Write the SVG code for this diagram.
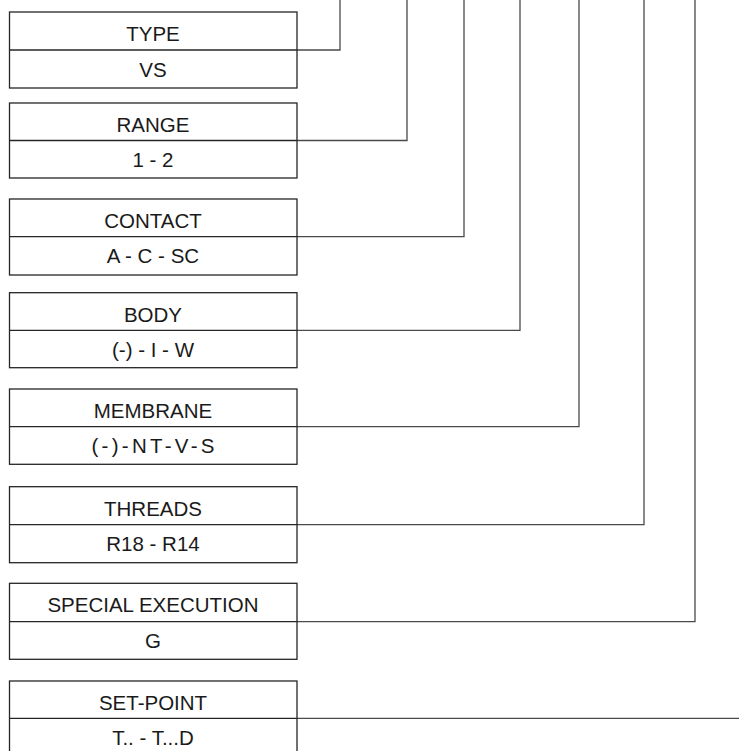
<svg xmlns="http://www.w3.org/2000/svg" width="739" height="751" viewBox="0 0 739 751">
<style>
.box{fill:#fff;stroke:#262626;stroke-width:1.3}
.div{stroke:#262626;stroke-width:1.3}
.conn{fill:none;stroke:#4a4a4a;stroke-width:1.3}
.t{font-family:"Liberation Sans",Arial,sans-serif;font-size:20.5px;fill:#1a1a1a;text-anchor:middle}
</style>
<rect width="739" height="751" fill="#fff"/>
<g id="connectors">
<path class="conn" d="M297 50H340V0"/>
<path class="conn" d="M297 140.5H407V0"/>
<path class="conn" d="M297 236.7H464V0"/>
<path class="conn" d="M297 330.3H520V0"/>
<path class="conn" d="M297 426.7H579V0"/>
<path class="conn" d="M297 524.7H644V0"/>
<path class="conn" d="M297 621.7H695V0"/>
<path class="conn" d="M297 718.3H739"/>
</g>
<g id="type">
<rect class="box" x="9.5" y="12" width="287.5" height="76"/>
<line class="div" x1="9.5" y1="50" x2="297" y2="50"/>
<text class="t" x="153" y="41.3">TYPE</text>
<text class="t" x="153" y="76.7">VS</text>
</g>
<g id="range">
<rect class="box" x="9.5" y="103" width="287.5" height="75"/>
<line class="div" x1="9.5" y1="140.5" x2="297" y2="140.5"/>
<text class="t" x="153" y="132.3">RANGE</text>
<text class="t" x="153" y="167.2">1 - 2</text>
</g>
<g id="contact">
<rect class="box" x="9.5" y="199" width="287.5" height="76"/>
<line class="div" x1="9.5" y1="236.7" x2="297" y2="236.7"/>
<text class="t" x="153" y="228.3">CONTACT</text>
<text class="t" x="153" y="263.4">A - C - SC</text>
</g>
<g id="body">
<rect class="box" x="9.5" y="292.7" width="287.5" height="75"/>
<line class="div" x1="9.5" y1="330.3" x2="297" y2="330.3"/>
<text class="t" x="153" y="322">BODY</text>
<text class="t" x="153" y="357">(-) - I - W</text>
</g>
<g id="membrane">
<rect class="box" x="9.5" y="389" width="287.5" height="75.3"/>
<line class="div" x1="9.5" y1="426.7" x2="297" y2="426.7"/>
<text class="t" x="153" y="418.3">MEMBRANE</text>
<text class="t" x="153" y="453.4" textLength="123" lengthAdjust="spacing">(-)-NT-V-S</text>
</g>
<g id="threads">
<rect class="box" x="9.5" y="486.7" width="287.5" height="76"/>
<line class="div" x1="9.5" y1="524.7" x2="297" y2="524.7"/>
<text class="t" x="153" y="516">THREADS</text>
<text class="t" x="153" y="551.4">R18 - R14</text>
</g>
<g id="special-execution">
<rect class="box" x="9.5" y="583.3" width="287.5" height="76"/>
<line class="div" x1="9.5" y1="621.7" x2="297" y2="621.7"/>
<text class="t" x="153" y="612.2">SPECIAL EXECUTION</text>
<text class="t" x="153" y="648.2">G</text>
</g>
<g id="set-point">
<rect class="box" x="9.5" y="681" width="287.5" height="80"/>
<line class="div" x1="9.5" y1="718.3" x2="297" y2="718.3"/>
<text class="t" x="153" y="710.3">SET-POINT</text>
<text class="t" x="153" y="745.2">T.. - T...D</text>
</g>
</svg>
